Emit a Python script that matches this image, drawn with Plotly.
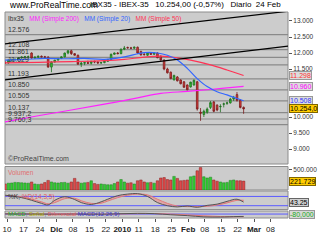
import plotly.graph_objects as go

# ---------------- data ----------------
idx = list(range(73))
opens = [11700,11690,11780,11790,11800,11850,11870,11880,12000,11840,11870,11900,11880,11870,11560,11720,11780,11830,11880,12000,12070,11980,11930,11650,11680,11700,11680,11740,11720,11690,11700,11740,11800,11960,12000,11980,12120,12170,12160,12150,12180,12050,11960,11930,12000,11960,12000,11900,11780,11500,11400,11160,11250,11156,11100,11000,10940,11000,11100,10150,10080,10150,10300,10470,10370,10320,10400,10430,10440,10560,10700,10520,10300]
highs = [11760,11800,11820,11830,11860,11900,11910,11920,12020,11890,11910,11920,11910,11900,11740,11780,11840,11900,12010,12090,12100,12000,11950,11720,11720,11760,11730,11760,11740,11720,11760,11800,11980,12010,12030,12140,12220,12200,12190,12200,12200,12070,12000,12010,12020,12010,12020,11920,11800,11540,11420,11320,11280,11180,11120,11020,11100,11170,11130,10280,10230,10300,10500,10500,10400,10400,10450,10480,10600,10660,10780,10560,10330]
lows = [11660,11660,11740,11760,11780,11820,11840,11820,11820,11820,11840,11860,11850,11540,11400,11700,11760,11810,11860,11960,11940,11950,11640,11560,11620,11660,11640,11680,11660,11660,11680,11720,11780,11940,11960,11960,12090,12140,12120,12120,11980,11920,11920,11910,11940,11940,11840,11760,11460,11360,11180,11140,11110,11020,10910,10830,10920,10980,10200,9880,10000,10100,10250,10150,10180,10150,10300,10380,10420,10500,10480,10270,10100]
closes = [11690,11780,11790,11800,11850,11870,11880,11880,11840,11870,11900,11880,11870,11560,11720,11780,11830,11880,12000,12070,11980,11930,11650,11680,11700,11680,11740,11720,11690,11700,11740,11800,11960,12000,11980,12120,12150,12160,12150,12180,12000,11940,11950,12000,11960,12000,11850,11780,11500,11380,11200,11300,11130,11040,10930,10850,11090,11150,10250,10120,10180,10250,10450,10180,10220,10330,10410,10440,10560,10620,10520,10300,10254]
volumes = [150000,170000,175000,190000,185000,180000,175000,170000,200000,150000,140000,150000,185000,240000,200000,180000,175000,185000,190000,170000,200000,290000,200000,170000,180000,190000,230000,160000,140000,150000,140000,130000,130000,160000,200000,260000,200000,170000,180000,150000,230000,250000,200000,180000,190000,170000,230000,300000,310000,260000,250000,340000,290000,230000,240000,250000,330000,350000,480000,560000,330000,300000,320000,250000,220000,200000,180000,190000,240000,250000,230000,230000,221729]

ma20_idx = [0,6,12,18,24,30,36,42,46,49,52,55,58,61,64,67,70,72]
ma20_val = [11780,11800,11830,11820,11830,11800,11880,12010,12000,11930,11780,11520,11200,10950,10790,10690,10580,10508]
ma50_idx = [0,10,20,30,36,42,47,52,56,62,67,72]
ma50_val = [11690,11710,11730,11760,11800,11870,11900,11850,11780,11630,11470,11298]
ma200_idx = [0,10,20,30,40,47,55,62,67,72]
ma200_val = [9850,10040,10220,10400,10600,10740,10800,10860,10910,10960]

levels = [12576,12108,11861,11629,11193,10850,10505,10137,9937.2,9760.3]
level_labels = ["12.576","12.108","11.861","11.629","11.193","10.850","10.505","10.137","9.937,2","9.760,3"]

trend_x = [-0.5, 86]
trend_upper = [12281, 13312]
trend_lower = [11156, 12219]

stoch_idx = [0,5,8,11,13,15,18,21,23,26,29,31,34,37,40,43,46,49,52,55,58,61,64,67,70,72]
stoch_k = [88,72,55,35,25,55,78,60,40,28,45,62,85,95,98,80,40,20,12,18,10,22,30,48,62,43.25]
stoch_d = [85,78,62,45,32,40,65,68,52,35,36,50,72,88,95,90,62,35,18,14,14,16,24,38,55,55]

macd_idx = [0,5,10,15,20,25,30,35,40,45,50,55,60,65,70,72]
macd_line = [20,10,0,-20,10,-10,-15,40,80,50,-80,-180,-320,-340,-280,-270]
macd_signal = [25,15,5,-5,0,0,-10,10,50,60,0,-90,-200,-280,-300,-295]

tick_idx = [0.6 + 4.97 * k for k in range(17)]
tick_text = ["10","17","24","<b>Dic</b>","08","15","22","<b>2010</b>","11","18","25","<b>Feb</b>","08","15","22","<b>Mar</b>","08"]

price_ticks = [13000,12500,12000,11500,11000,10500,10000,9500,9000]
price_tick_text = ["13.000","12.500","12.000","11.500","","","10.000","9.500","9.000"]

# ---------------- figure ----------------
FONT = "Liberation Sans, Arial, sans-serif"
fig = go.Figure()

fig.add_trace(go.Candlestick(
    x=idx, open=opens, high=highs, low=lows, close=closes,
    increasing=dict(line=dict(color="#1f6f1f", width=0.8), fillcolor="#33cc33"),
    decreasing=dict(line=dict(color="#7a1a1a", width=0.8), fillcolor="#dd3b3b"),
    whiskerwidth=0, xaxis="x", yaxis="y", showlegend=False, hoverinfo="skip"))

fig.add_trace(go.Scatter(x=ma200_idx, y=ma200_val, mode="lines", line=dict(color="#ff22ff", width=1.2, shape="spline"), xaxis="x", yaxis="y", showlegend=False))
fig.add_trace(go.Scatter(x=ma50_idx, y=ma50_val, mode="lines", line=dict(color="#ff3355", width=1.2, shape="spline"), xaxis="x", yaxis="y", showlegend=False))
fig.add_trace(go.Scatter(x=ma20_idx, y=ma20_val, mode="lines", line=dict(color="#3366ff", width=1.2, shape="spline"), xaxis="x", yaxis="y", showlegend=False))

fig.add_trace(go.Scatter(x=trend_x, y=trend_upper, mode="lines", line=dict(color="#000000", width=1.2), xaxis="x", yaxis="y", showlegend=False))
fig.add_trace(go.Scatter(x=trend_x, y=trend_lower, mode="lines", line=dict(color="#000000", width=1.2), xaxis="x", yaxis="y", showlegend=False))

vol_colors = ["#33cc33" if c >= o else "#dd4a4a" for o, c in zip(opens, closes)]
vol_lines = ["#1f7f1f" if c >= o else "#8a2020" for o, c in zip(opens, closes)]
fig.add_trace(go.Bar(x=idx, y=volumes, marker=dict(color=vol_colors, line=dict(color=vol_lines, width=0.5)), width=0.75, xaxis="x", yaxis="y2", showlegend=False))

fig.add_trace(go.Scatter(x=stoch_idx, y=stoch_d, mode="lines", line=dict(color="#e07a7a", width=1, shape="spline"), xaxis="x", yaxis="y3", showlegend=False))
fig.add_trace(go.Scatter(x=stoch_idx, y=stoch_k, mode="lines", line=dict(color="#555555", width=1, shape="spline"), fill="tonexty", fillcolor="rgba(235,140,140,0.6)", xaxis="x", yaxis="y3", showlegend=False))

fig.add_trace(go.Scatter(x=macd_idx, y=macd_signal, mode="lines", line=dict(color="#e07a7a", width=1, shape="spline"), xaxis="x", yaxis="y4", showlegend=False))
fig.add_trace(go.Scatter(x=macd_idx, y=macd_line, mode="lines", line=dict(color="#555555", width=1, shape="spline"), fill="tonexty", fillcolor="rgba(235,140,140,0.6)", xaxis="x", yaxis="y4", showlegend=False))

shapes = []
for yr in ["y", "y2", "y3", "y4"]:
    shapes.append(dict(type="rect", xref="x domain", yref=yr + " domain", x0=0, x1=1, y0=0, y1=1,
                       fillcolor="#cccccc", line=dict(color="#8c8c8c", width=1), layer="below"))
for lv in levels:
    shapes.append(dict(type="line", xref="x domain", yref="y", x0=0, x1=1, y0=lv, y1=lv,
                       line=dict(color="#8a8a8a", width=1.2), layer="below"))
for lv in [80, 20]:
    shapes.append(dict(type="line", xref="x domain", yref="y3", x0=0, x1=1, y0=lv, y1=lv,
                       line=dict(color="#5a5aff", width=1), layer="below"))
shapes.append(dict(type="line", xref="x domain", yref="y4", x0=0, x1=1, y0=0, y1=0,
                   line=dict(color="#5a5aff", width=1), layer="below"))

ann = []
for lv, lt in zip(levels, level_labels):
    ann.append(dict(text=lt, xref="paper", yref="y", x=0.003, y=lv, xanchor="left", yanchor="bottom",
                    showarrow=False, font=dict(family=FONT, size=7, color="#333333")))

def box(text, yref, y, color, bg, border):
    ann.append(dict(text=text, xref="paper", yref=yref, x=1.004, y=y, xanchor="left", yanchor="middle",
                    showarrow=False, font=dict(family=FONT, size=7, color=color), bgcolor=bg,
                    bordercolor=border, borderwidth=1, borderpad=0))

box("11.298", "y", ma50_val[-1], "#ff3333", "#dcdcdc", "#999999")
box("10.960", "y", ma200_val[-1], "#ff00ff", "#dcdcdc", "#999999")
box("10.508", "y", ma20_val[-1], "#3333ff", "#dcdcdc", "#999999")
box("10.254,0", "y", closes[-1], "#000000", "#ffcc00", "#806600")
box("221.729", "y2", volumes[-1], "#000000", "#ffcc00", "#806600")
box("43.25", "y3", stoch_k[-1], "#000000", "#d0d0d0", "#666666")
box("-80,000", "y4", 0, "#22aa22", "#d8d8d8", "#999999")

ann.append(dict(text="www.ProRealTime.com", xref="paper", yref="paper", x=0.006, y=1.034,
                xanchor="left", yanchor="middle", showarrow=False, font=dict(family=FONT, size=8.5, color="#000000")))
ann.append(dict(text="IBX35 - IBEX-35   10.254,00 (-0,57%)   Diario  24 Feb", xref="paper", yref="paper",
                x=0.983, y=1.034, xanchor="right", yanchor="middle", showarrow=False,
                font=dict(family=FONT, size=8, color="#000000")))
legend_html = ("<span style='color:#333333'>Ibx35</span>   <span style='color:#ff22ff'>MM (Simple 200)</span>   "
               "<span style='color:#3366ff'>MM (Simple 20)</span>   <span style='color:#ff3355'>MM (Simple 50)</span>")
ann.append(dict(text=legend_html, xref="paper", yref="y domain", x=0.005, y=0.995, xanchor="left", yanchor="top",
                showarrow=False, font=dict(family=FONT, size=6.5)))
ann.append(dict(text="©ProRealTime.com", xref="paper", yref="y domain", x=0.003, y=0.0, xanchor="left", yanchor="bottom",
                showarrow=False, font=dict(family=FONT, size=7, color="#444444")))
ann.append(dict(text="Volumen", xref="paper", yref="y2 domain", x=0.005, y=1.0, xanchor="left", yanchor="top",
                showarrow=False, font=dict(family=FONT, size=6.5, color="#e07070")))
ann.append(dict(text="<span style='color:#333333'>%K</span>, <span style='color:#e06060'>%D(14,3,5)</span>", xref="paper", yref="y3 domain", x=0.005, y=1.0, xanchor="left", yanchor="top",
                showarrow=False, font=dict(family=FONT, size=6.5)))
ann.append(dict(text="<span style='color:#22aa22'>MACD</span>, <span style='color:#aaaa00'>Señal</span>, <span style='color:#e06060'>Diferencial</span> <span style='color:#3333cc'>MACD(12,26,9)</span>",
                xref="paper", yref="y4 domain", x=0.005, y=0.5, xanchor="left", yanchor="middle",
                showarrow=False, font=dict(family=FONT, size=6)))

ax_font = dict(family=FONT, size=6.5, color="#333333")
fig.update_layout(
    width=320, height=249, margin=dict(l=3, r=30, t=12, b=31),
    paper_bgcolor="#ffffff", plot_bgcolor="#ffffff",
    showlegend=False, shapes=shapes, annotations=ann,
    xaxis=dict(domain=[0, 1], anchor="y4", range=[-0.02, 85.4], tickvals=tick_idx, ticktext=tick_text,
               ticks="outside", ticklen=3, tickcolor="#555555", showgrid=False, zeroline=False,
               showline=False, rangeslider=dict(visible=False), tickfont=dict(family=FONT, size=8, color="#222222")),
    yaxis=dict(domain=[0.262, 1], anchor="x", side="right", range=[8531, 13281], tickvals=price_ticks,
               ticktext=price_tick_text, ticks="outside", ticklen=3, tickcolor="#555555", showgrid=False,
               zeroline=False, tickfont=ax_font),
    yaxis2=dict(domain=[0.136, 0.25], anchor="x", side="right", range=[0, 587000], tickvals=[500000],
                ticktext=["500.000"], ticks="outside", ticklen=3, tickcolor="#555555", showgrid=False,
                zeroline=False, tickfont=ax_font),
    yaxis3=dict(domain=[0.041, 0.131], anchor="x", side="right", range=[-5, 115], showticklabels=False,
                showgrid=False, zeroline=False),
    yaxis4=dict(domain=[0, 0.034], anchor="x", side="right", range=[-450, 350], showticklabels=False,
                showgrid=False, zeroline=False),
)

fig.write_html("out.html")
